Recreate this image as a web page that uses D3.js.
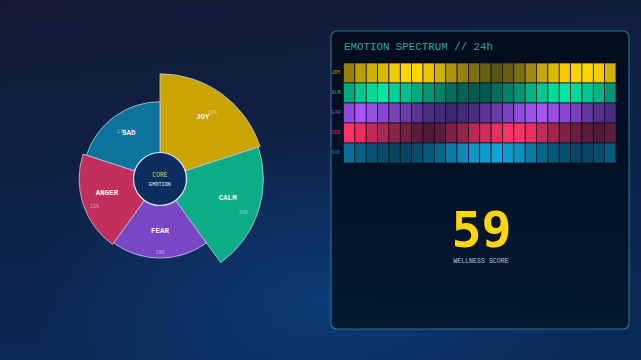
<html>
<head>
<script src="https://d3js.org/d3.v7.min.js"></script>
<style>
  body { margin: 0; background: #0f1b38; overflow: hidden; }
  svg { display: block; }
</style>
</head>
<body>
<svg id="chart" width="641" height="360"></svg>
<script>
// core emotion wheel
const emotions = ["JOY", "CALM", "FEAR", "ANGER", "SAD"];
const intensity = [88, 86, 59, 61, 57];
const shares = ["29%", "34%", "19%", "22%", "17%"];
const wheelColors = ["#c9a402", "#0cac85", "#7a46c4", "#c12f5c", "#0b739c"];

// 24h spectrum (0-100 per hour)
const hours = d3.range(24);
const joyHours = [55, 70, 80, 85, 95, 100, 100, 90, 80, 65, 55, 45, 35, 30, 35, 45, 60, 75, 85, 95, 100, 100, 95, 80];
const calmHours = [70, 85, 95, 100, 90, 80, 70, 60, 50, 40, 35, 30, 30, 40, 50, 60, 75, 85, 95, 100, 95, 85, 75, 60];
const fearHours = [85, 100, 90, 80, 70, 60, 50, 40, 35, 30, 35, 40, 50, 60, 70, 85, 95, 100, 90, 80, 70, 55, 45, 40];
const angerHours = [100, 90, 75, 65, 50, 40, 30, 25, 30, 45, 55, 70, 80, 90, 100, 100, 90, 75, 60, 45, 35, 30, 25, 30];
const sadHours = [60, 50, 40, 35, 30, 30, 35, 45, 55, 70, 80, 90, 95, 100, 95, 85, 70, 55, 45, 35, 30, 30, 35, 45];
const heatColors = ["#ffd400", "#00e5a0", "#a855f7", "#ff3366", "#0ea5d6"];

const wellness = 59;

const svg = d3.select("#chart");
const defs = svg.append("defs");

// background
const bg = defs.append("linearGradient").attr("id", "bg").attr("x1", 0).attr("y1", 0).attr("x2", 0.2).attr("y2", 1);
bg.append("stop").attr("offset", "0%").attr("stop-color", "#131a36");
bg.append("stop").attr("offset", "100%").attr("stop-color", "#0a2a56");
const glow = defs.append("radialGradient").attr("id", "glow")
  .attr("cx", 0.5).attr("cy", 0.83).attr("r", 0.45);
glow.append("stop").attr("offset", "0%").attr("stop-color", "#0e4488").attr("stop-opacity", 0.65);
glow.append("stop").attr("offset", "100%").attr("stop-color", "#0e4488").attr("stop-opacity", 0);
svg.append("rect").attr("width", 641).attr("height", 360).attr("fill", "url(#bg)");
svg.append("rect").attr("width", 641).attr("height", 360).attr("fill", "url(#glow)");

// ---- wheel ----
const cx = 160, cy = 179, innerR = 26;
const rScale = d3.scaleLinear().domain([0, 100]).range([innerR, 116]);
const pie = d3.pie().sort(null).value(1);
const slices = pie(emotions.map((e, i) => ({ name: e, v: intensity[i], pct: shares[i], color: wheelColors[i] })));

const wheel = svg.append("g").attr("transform", `translate(${cx},${cy})`);
const arc = d3.arc().innerRadius(innerR).outerRadius(d => rScale(d.data.v));

wheel.selectAll("path.seg").data(slices).join("path")
  .attr("class", "seg")
  .attr("d", arc)
  .attr("fill", d => d.data.color)
  .attr("stroke", "#c9cfe6")
  .attr("stroke-opacity", 0.75)
  .attr("stroke-width", 1);

function polar(a, r) { return [Math.sin(a) * r, -Math.cos(a) * r]; }

wheel.selectAll("text.pct").data(slices).join("text")
  .attr("class", "pct")
  .attr("x", d => polar((d.startAngle + d.endAngle) / 2, rScale(d.data.v) * 0.85)[0])
  .attr("y", d => polar((d.startAngle + d.endAngle) / 2, rScale(d.data.v) * 0.85)[1] + 6.5)
  .attr("text-anchor", "middle").attr("dominant-baseline", "central")
  .attr("font-family", "Liberation Mono, monospace")
  .attr("font-size", 5).attr("fill", "#e6e6f0").attr("fill-opacity", 0.6)
  .text(d => d.data.pct);

// labels drawn over the shares (SAD covers its own)
wheel.selectAll("text.lbl").data(slices).join("text")
  .attr("class", "lbl")
  .attr("x", d => polar((d.startAngle + d.endAngle) / 2, rScale(d.data.v) * 0.69)[0])
  .attr("y", d => polar((d.startAngle + d.endAngle) / 2, rScale(d.data.v) * 0.69)[1] - 3)
  .attr("text-anchor", "middle").attr("dominant-baseline", "central")
  .attr("font-family", "Liberation Mono, monospace").attr("font-weight", "bold")
  .attr("font-size", 7.5).attr("fill", "#f4f4f8")
  .text(d => d.data.name);

wheel.append("circle").attr("r", innerR + 0.5)
  .attr("fill", "#0b2d5f").attr("stroke", "#dfe8f5").attr("stroke-width", 1.2);
wheel.append("text").attr("y", -4).attr("text-anchor", "middle").attr("dominant-baseline", "central")
  .attr("font-family", "Liberation Mono, monospace").attr("font-size", 6.4)
  .attr("fill", "#c8d36c").text("CORE");
wheel.append("text").attr("y", 5.5).attr("text-anchor", "middle").attr("dominant-baseline", "central")
  .attr("font-family", "Liberation Mono, monospace").attr("font-size", 5.2)
  .attr("fill", "#e8eef8").text("EMOTION");

// ---- panel ----
const px = 331, py = 31, pw = 298, ph = 298;
const pg = defs.append("linearGradient").attr("id", "panel").attr("x1", 0).attr("y1", 0).attr("x2", 0).attr("y2", 1);
pg.append("stop").attr("offset", "0%").attr("stop-color", "#020b1d");
pg.append("stop").attr("offset", "100%").attr("stop-color", "#03172f");
defs.append("clipPath").attr("id", "pclip").append("rect")
  .attr("x", px).attr("y", py).attr("width", pw).attr("height", ph).attr("rx", 6);

svg.append("rect").attr("x", px).attr("y", py).attr("width", pw).attr("height", ph).attr("rx", 6)
  .attr("fill", "url(#panel)").attr("fill-opacity", 0.96);

const panel = svg.append("g").attr("clip-path", "url(#pclip)");

panel.append("text").attr("x", 344).attr("y", 47).attr("dominant-baseline", "central")
  .attr("font-family", "Liberation Mono, monospace").attr("font-size", 10.8)
  .attr("fill", "#2fa593").text("EMOTION SPECTRUM // 24h");

const rows = [joyHours, calmHours, fearHours, angerHours, sadHours];
const x = d3.scaleBand().domain(hours).range([343.5, 616]);
const y = d3.scaleBand().domain(emotions).range([63, 163]);
const op = d3.scaleLinear().domain([0, 100]).range([0.08, 1]);

const cells = [];
rows.forEach((vals, r) => vals.forEach((v, h) => cells.push({ e: emotions[r], h, v, c: heatColors[r] })));

panel.selectAll("rect.cell").data(cells).join("rect")
  .attr("class", "cell")
  .attr("x", d => x(d.h)).attr("y", d => y(d.e))
  .attr("width", x.bandwidth()).attr("height", y.bandwidth())
  .attr("fill", d => d.c).attr("fill-opacity", d => op(d.v))
  .attr("stroke", "#07101f").attr("stroke-width", 0.7);

panel.selectAll("text.row").data(emotions).join("text")
  .attr("class", "row")
  .attr("x", 340.5).attr("y", d => y(d) + y.bandwidth() / 2)
  .attr("text-anchor", "end").attr("dominant-baseline", "central")
  .attr("font-family", "Liberation Mono, monospace").attr("font-size", 5)
  .attr("fill", (d, i) => heatColors[i]).attr("fill-opacity", 0.8)
  .text(d => d);

panel.append("text").attr("x", 481.5).attr("y", 247)
  .attr("text-anchor", "middle")
  .attr("font-family", "DejaVu Sans Mono, monospace").attr("font-weight", "bold")
  .attr("font-size", 50).attr("fill", "#ffd60a")
  .text(wellness);
panel.append("text").attr("x", 481).attr("y", 261).attr("text-anchor", "middle").attr("dominant-baseline", "central")
  .attr("font-family", "Liberation Mono, monospace").attr("font-size", 6.6)
  .attr("fill", "#b9c3d6").text("WELLNESS SCORE");

svg.append("rect").attr("x", px).attr("y", py).attr("width", pw).attr("height", ph).attr("rx", 6)
  .attr("fill", "none").attr("stroke", "#2c7394").attr("stroke-width", 1.1);
</script>
</body>
</html>
